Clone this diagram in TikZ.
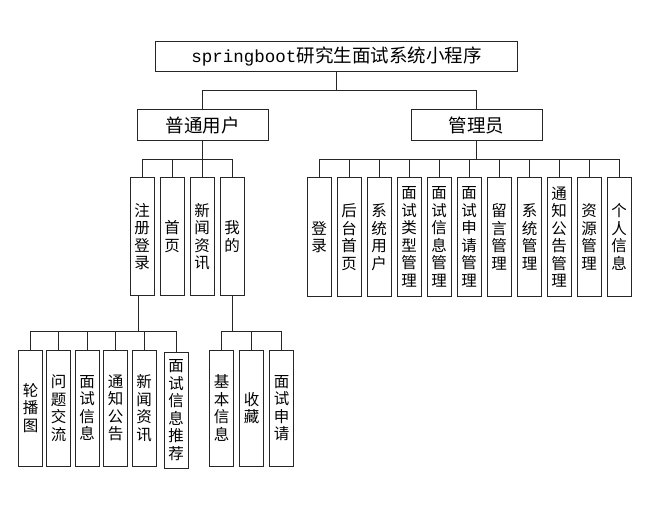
\documentclass[tikz,border=0pt]{standalone}
\usepackage{fontspec}
\setmainfont{Noto Sans CJK SC}
\newfontfamily\latinmono{Liberation Mono}
\begin{document}
\begin{tikzpicture}[x=1pt,y=-1pt,
  box/.style={draw=black!85,line width=1pt,inner sep=0pt,fill=white},
  hbox/.style={box,minimum height=30pt,font=\fontsize{18.5}{20}\selectfont},
  vbox/.style={box,minimum width=24pt,align=center,font=\fontsize{15.5}{17.5}\selectfont},
  conn/.style={draw=black!85,line width=1pt}]
\useasboundingbox[fill=white] (0,0) rectangle (653,505);
% level 0
\node[hbox,minimum width=362pt] (root) at (336.5,56.5) {{\latinmono\fontsize{17.5}{20}\selectfont springboot}研究生面试系统小程序};
% level 1
\node[hbox,minimum width=131pt,minimum height=31pt] (user) at (202.5,125.5) {普通用户};
\node[hbox,minimum width=131pt,minimum height=31pt] (admin) at (476.5,125.5) {管理员};
% user children
\node[vbox,minimum height=117pt] (u1) at (142,236.5) {注\\册\\登\\录};
\node[vbox,minimum height=117pt] (u2) at (172,236.5) {首\\页};
\node[vbox,minimum height=117pt] (u3) at (202,236.5) {新\\闻\\资\\讯};
\node[vbox,minimum height=117pt] (u4) at (232,236.5) {我\\的};
% admin children
\node[vbox,minimum height=118pt] (a1) at (319,237) {登\\录};
\node[vbox,minimum height=118pt] (a2) at (349,237) {后\\台\\首\\页};
\node[vbox,minimum height=118pt] (a3) at (379,237) {系\\统\\用\\户};
\node[vbox,minimum height=118pt] (a4) at (409,237) {面\\试\\类\\型\\管\\理};
\node[vbox,minimum height=118pt] (a5) at (439,237) {面\\试\\信\\息\\管\\理};
\node[vbox,minimum height=118pt] (a6) at (469,237) {面\\试\\申\\请\\管\\理};
\node[vbox,minimum height=118pt] (a7) at (499,237) {留\\言\\管\\理};
\node[vbox,minimum height=118pt] (a8) at (529.5,237) {系\\统\\管\\理};
\node[vbox,minimum height=118pt] (a9) at (559,237) {通\\知\\公\\告\\管\\理};
\node[vbox,minimum height=118pt] (a10) at (589,237) {资\\源\\管\\理};
\node[vbox,minimum height=118pt] (a11) at (619,237) {个\\人\\信\\息};
% 注册登录 children
\node[vbox,minimum height=116pt] (r1) at (30.5,408) {轮\\播\\图};
\node[vbox,minimum height=116pt] (r2) at (58.5,408) {问\\题\\交\\流};
\node[vbox,minimum height=116pt] (r3) at (87,408) {面\\试\\信\\息};
\node[vbox,minimum height=116pt] (r4) at (115.5,408) {通\\知\\公\\告};
\node[vbox,minimum height=116pt] (r5) at (144,408) {新\\闻\\资\\讯};
\node[vbox,minimum height=116pt] (r6) at (176,410) {面\\试\\信\\息\\推\\荐};
% 我的 children
\node[vbox,minimum height=116pt] (m1) at (221.5,408) {基\\本\\信\\息};
\node[vbox,minimum height=116pt] (m2) at (251.5,408) {收\\藏};
\node[vbox,minimum height=116pt] (m3) at (281.5,408) {面\\试\\申\\请};
% connectors
\foreach \c in {user,admin} \draw[conn] (root.south) -- ++(0,19) -| (\c.north);
\foreach \c in {u1,u2,u3,u4} \draw[conn] (user.south) -- ++(0,18) -| (\c.north);
\foreach \c in {a1,a2,a3,a4,a5,a6,a7,a8,a9,a10,a11} \draw[conn] (admin.south) -- ++(0,18) -| (\c.north);
\foreach \c in {r1,r2,r3,r4,r5,r6} \draw[conn] ([xshift=-4pt]u1.south) -- ++(0,36) -| (\c.north);
\foreach \c in {m1,m2,m3} \draw[conn] (u4.south) -- ++(0,36) -| (\c.north);
\end{tikzpicture}
\end{document}
